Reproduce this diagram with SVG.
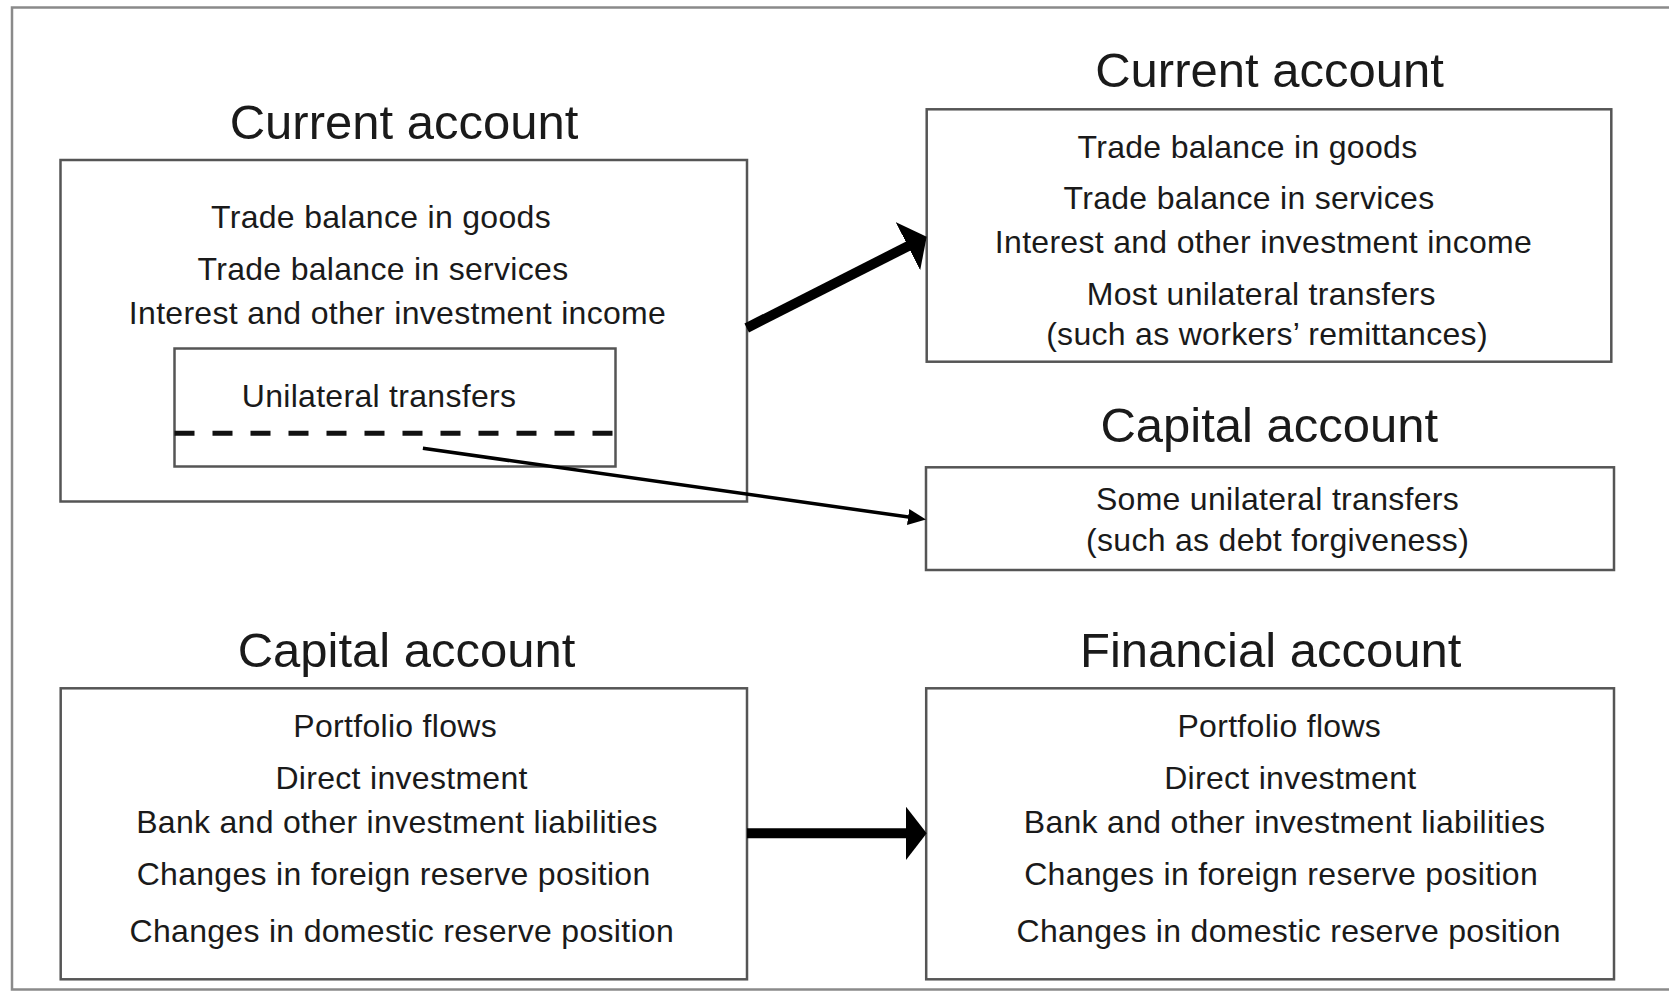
<svg xmlns="http://www.w3.org/2000/svg" width="1669" height="992" viewBox="0 0 1669 992">
<style>
.frame{fill:none;stroke:#8a8a8a;stroke-width:2.5}
.box{fill:#fff;stroke:#555;stroke-width:2.5}
.title{font-family:"Liberation Sans",Arial,sans-serif;font-size:49px;fill:#1a1a1a;text-anchor:middle}
.item{font-family:"Liberation Sans",Arial,sans-serif;font-size:32px;letter-spacing:0.3px;fill:#1a1a1a;text-anchor:middle}
.dash{stroke:#111;stroke-width:5;stroke-dasharray:20 18;fill:none}
.thick{stroke:#000;stroke-width:10;fill:none}
.thin{stroke:#000;stroke-width:3.5;fill:none}
</style>
<defs>
<marker id="bighead" viewBox="0 0 21 54" markerWidth="21" markerHeight="54" refX="6" refY="27" orient="auto" markerUnits="userSpaceOnUse">
<path d="M0,0 L21,27 L0,54 Z" fill="#000"/>
</marker>
<marker id="smallhead" viewBox="0 0 18 16" markerWidth="18" markerHeight="16" refX="13" refY="8" orient="auto" markerUnits="userSpaceOnUse">
<path d="M0,0 L18,8 L0,16 Z" fill="#000"/>
</marker>
</defs>
<rect width="1669" height="992" fill="#fff"/>
<rect class="frame" x="12" y="7.5" width="1680" height="982"/>

<g id="old-current-account">
<text class="title" x="404" y="139">Current account</text>
<rect class="box" x="60.5" y="160" width="686.5" height="341.5"/>
<text class="item" x="381" y="227.5">Trade balance in goods</text>
<text class="item" x="383" y="279.5">Trade balance in services</text>
<text class="item" x="397.5" y="323.5">Interest and other investment income</text>
</g>

<g id="unilateral-transfers">
<rect class="box" x="174.5" y="348.5" width="441" height="118"/>
<text class="item" x="379" y="406.5">Unilateral transfers</text>
<line class="dash" x1="174.5" y1="433.3" x2="615.5" y2="433.3"/>
</g>

<g id="new-current-account">
<text class="title" x="1269.5" y="86.5">Current account</text>
<rect class="box" x="926.7" y="109.3" width="684.6" height="252.4"/>
<text class="item" x="1247.5" y="158.3">Trade balance in goods</text>
<text class="item" x="1249" y="209.3">Trade balance in services</text>
<text class="item" x="1263.5" y="253.3">Interest and other investment income</text>
<text class="item" x="1261.3" y="305">Most unilateral transfers</text>
<text class="item" x="1267" y="345">(such as workers’ remittances)</text>
</g>

<g id="new-capital-account">
<text class="title" x="1269.3" y="442.3">Capital account</text>
<rect class="box" x="926" y="467.3" width="688" height="102.7"/>
<text class="item" x="1277.5" y="510">Some unilateral transfers</text>
<text class="item" x="1277.6" y="551">(such as debt forgiveness)</text>
</g>

<g id="old-capital-account">
<text class="title" x="406.6" y="666.7">Capital account</text>
<rect class="box" x="60.7" y="688.3" width="686.3" height="291"/>
<text class="item" x="395.2" y="737.3">Portfolio flows</text>
<text class="item" x="401.6" y="789.3">Direct investment</text>
<text class="item" x="397" y="833.3">Bank and other investment liabilities</text>
<text class="item" x="393.6" y="885">Changes in foreign reserve position</text>
<text class="item" x="401.8" y="941.7">Changes in domestic reserve position</text>
</g>

<g id="financial-account">
<text class="title" x="1270.7" y="666.7">Financial account</text>
<rect class="box" x="926.2" y="688.3" width="687.8" height="291"/>
<text class="item" x="1279.3" y="737.3">Portfolio flows</text>
<text class="item" x="1290.3" y="789.3">Direct investment</text>
<text class="item" x="1284.6" y="833.3">Bank and other investment liabilities</text>
<text class="item" x="1281.1" y="885">Changes in foreign reserve position</text>
<text class="item" x="1288.7" y="941.7">Changes in domestic reserve position</text>
</g>

<g id="connectors">
<line class="thick" x1="746.7" y1="328" x2="913.3" y2="243.5" marker-end="url(#bighead)"/>
<line class="thin" x1="422.9" y1="448.3" x2="921" y2="518.8" marker-end="url(#smallhead)"/>
<line class="thick" x1="747" y1="833.3" x2="911.7" y2="833.3" marker-end="url(#bighead)"/>
</g>
</svg>
